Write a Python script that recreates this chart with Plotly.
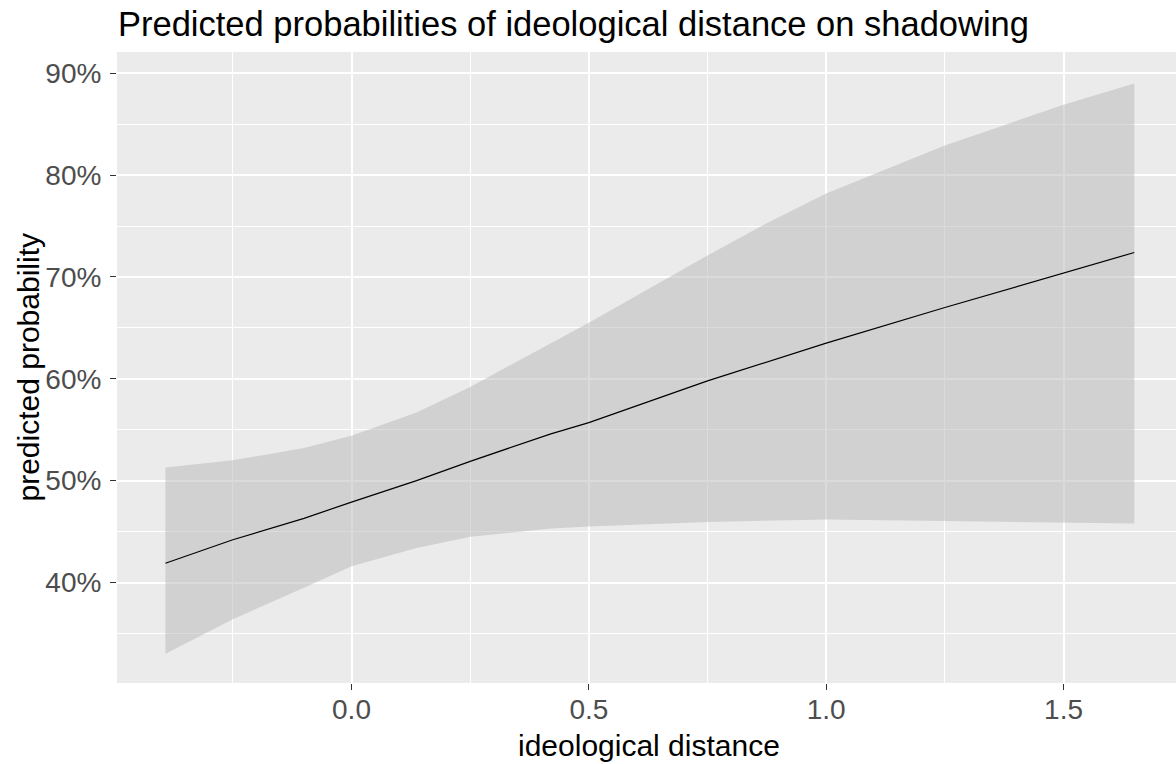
import plotly.graph_objects as go

# Ideological distance values at which predictions were evaluated
distance = [-0.392, -0.25, -0.10, 0.0, 0.137, 0.25, 0.42, 0.5, 0.75, 0.88, 1.0, 1.25, 1.5, 1.649]
# Predicted probability (%) and its 95% confidence band
predicted = [41.9, 44.2, 46.3, 47.9, 50.0, 51.9, 54.6, 55.7, 59.8, 61.7, 63.5, 67.0, 70.4, 72.4]
upper = [51.3, 52.0, 53.2, 54.4, 56.7, 59.2, 63.5, 65.5, 72.1, 75.4, 78.2, 82.9, 86.9, 89.0]
lower = [33.0, 36.4, 39.5, 41.6, 43.4, 44.5, 45.3, 45.5, 45.95, 46.1, 46.2, 46.05, 45.85, 45.8]

y_ticks = [40, 50, 60, 70, 80, 90]
x_ticks = [0.0, 0.5, 1.0, 1.5]

FONT = "Liberation Sans, Arial, sans-serif"
W, H = 1176, 764
L, R, T, B = 117, 0, 52, 81

fig = go.Figure()
fig.add_trace(go.Scatter(x=distance, y=upper, mode="lines", line=dict(width=0),
                         hoverinfo="skip", showlegend=False))
fig.add_trace(go.Scatter(x=distance, y=lower, mode="lines", line=dict(width=0),
                         fill="tonexty", fillcolor="rgba(183,183,183,0.5)",
                         hoverinfo="skip", showlegend=False))
fig.add_trace(go.Scatter(x=distance, y=predicted, mode="lines",
                         line=dict(color="black", width=1.2), showlegend=False))

tick_font = dict(family=FONT, size=28, color="#4D4D4D")

fig.update_xaxes(
    range=[-0.494, (W - R - L) / 474.7 - 0.494],
    tickvals=x_ticks, ticktext=[f"{v:.1f}" for v in x_ticks],
    ticks="outside", ticklen=6, tickwidth=1.2, tickcolor="#333333",
    tickfont=tick_font, showgrid=True, gridcolor="white", gridwidth=1.7,
    minor=dict(tick0=-0.25, dtick=0.5, showgrid=True, gridcolor="white", gridwidth=0.9),
    zeroline=False, showline=False, ticklabelstandoff=-5,
)
fig.update_yaxes(
    range=[30.14, 92.08],
    tickvals=y_ticks, ticktext=[f"{v}%" for v in y_ticks],
    ticks="outside", ticklen=6, tickwidth=1.2, tickcolor="#333333",
    tickfont=tick_font, showgrid=True, gridcolor="white", gridwidth=1.7,
    minor=dict(tick0=35, dtick=10, showgrid=True, gridcolor="white", gridwidth=0.9),
    zeroline=False, showline=False, ticklabelstandoff=3,
)

pw = W - L - R
ph = H - T - B
fig.update_layout(
    width=W, height=H, autosize=False,
    margin=dict(l=L, r=R, t=T, b=B, pad=0),
    paper_bgcolor="white", plot_bgcolor="#EBEBEB",
    title=dict(text="Predicted probabilities of ideological distance on shadowing",
               font=dict(family=FONT, size=34.5, color="black"),
               x=118 / W, xref="container", xanchor="left",
               y=1 - 24 / H, yref="container", yanchor="middle"),
    annotations=[
        dict(text="ideological distance", xref="paper", yref="paper",
             x=(649 - L) / pw, y=-(745 - (T + ph)) / ph,
             xanchor="center", yanchor="middle", showarrow=False,
             font=dict(family=FONT, size=30, color="black")),
        dict(text="predicted probability", xref="paper", yref="paper",
             x=(28 - L) / pw, y=0.5, textangle=-90,
             xanchor="center", yanchor="middle", showarrow=False,
             font=dict(family=FONT, size=30, color="black")),
    ],
)

fig.write_html("out.html")
